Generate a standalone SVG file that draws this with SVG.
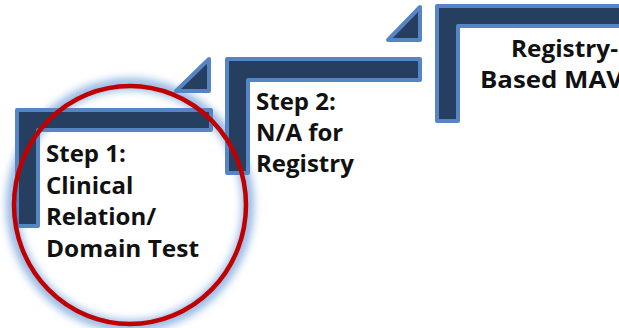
<svg xmlns="http://www.w3.org/2000/svg" width="619" height="328" viewBox="0 0 619 328">
<defs>
<style>
.bar{fill:#263F61;stroke:#5585C4;stroke-width:4;stroke-linejoin:round}
.lbl{font-family:"Open Sans","Liberation Sans",sans-serif;font-weight:bold;font-size:24px;fill:#111111}
</style>
<filter id="glow" x="-20%" y="-20%" width="140%" height="140%">
<feGaussianBlur stdDeviation="4.5"/>
</filter>
</defs>
<rect width="619" height="328" fill="#ffffff"/>
<g id="glowring">
<ellipse cx="130" cy="205" rx="118" ry="121" fill="none" stroke="#8DB3E2" stroke-width="11" filter="url(#glow)"/>
</g>
<g id="step1">
<path class="bar" d="M17,110 H211 V130 H38 V226 H17 Z"/>
<path class="bar" d="M209,59 V91 H176 Z"/>
<text class="lbl" x="46" y="162">Step 1:</text>
<text class="lbl" x="46" y="194">Clinical</text>
<text class="lbl" x="46" y="225">Relation/</text>
<text class="lbl" x="46" y="257" textLength="153" lengthAdjust="spacingAndGlyphs">Domain Test</text>
</g>
<g id="step2">
<path class="bar" d="M227,59 H420 V80 H248 V173 H227 Z"/>
<path class="bar" d="M420,7 V40 H388 Z"/>
<text class="lbl" x="256" y="110">Step 2:</text>
<text class="lbl" x="256" y="141">N/A for</text>
<text class="lbl" x="256" y="172">Registry</text>
</g>
<g id="step3">
<path class="bar" d="M437,6 H630 V26 H458 V121 H437 Z"/>
<text class="lbl" x="511" y="57" textLength="107" lengthAdjust="spacingAndGlyphs">Registry-</text>
<text class="lbl" x="480" y="88" textLength="143" lengthAdjust="spacingAndGlyphs">Based MAV</text>
</g>
<g id="connectors"></g>
<g id="highlight">
<ellipse cx="130" cy="205" rx="116" ry="119" fill="none" stroke="#C00000" stroke-width="4.5"/>
</g>
</svg>
